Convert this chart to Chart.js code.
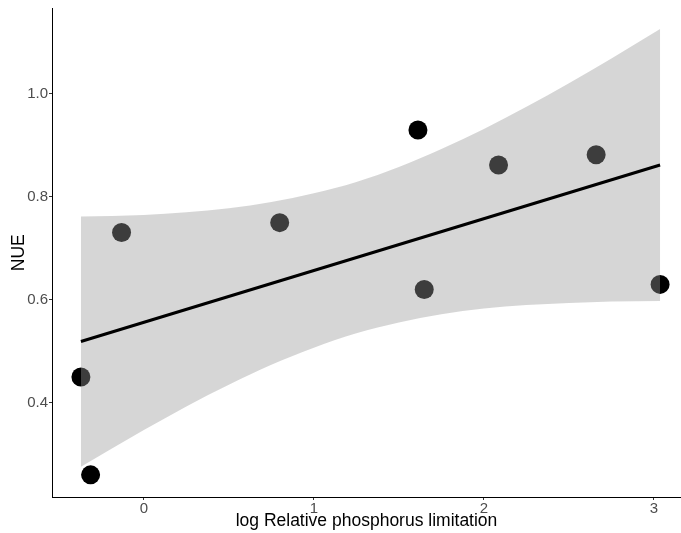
<!DOCTYPE html>
<html>
<head>
<meta charset="utf-8">
<script src="https://cdn.jsdelivr.net/npm/chart.js@4"></script>
<style>
  body { margin: 0; background: #fff; }
  #wrap { width: 681px; height: 533px; }
</style>
</head>
<body>
<div id="wrap"><canvas id="graph" width="681" height="533"></canvas></div>
<script>
// sites: log relative P limitation vs NUE
const limX = [-0.370, -0.313, -0.131, 0.799, 1.612, 1.649, 2.086, 2.660, 3.036];
const nue  = [0.450, 0.260, 0.731, 0.750, 0.930, 0.620, 0.862, 0.882, 0.630];

// linear fit, ends of the line
const fitX = [-0.370, 3.036];
const fitY = [0.519, 0.862];

// 95% band edges along the fit
const bandX  = [-0.370, 0, 0.25, 0.5, 0.75, 1.0, 1.25, 1.5, 1.75, 2.0, 2.25, 2.5, 2.75, 3.036];
const bandHi = [0.762, 0.765, 0.770, 0.778, 0.790, 0.807, 0.829, 0.858, 0.893, 0.932, 0.975, 1.021, 1.069, 1.126];
const bandLo = [0.276, 0.347, 0.393, 0.435, 0.474, 0.507, 0.535, 0.556, 0.572, 0.583, 0.590, 0.594, 0.597, 0.598];

const xTicks = [0, 1, 2, 3];
const yTicks = [0.4, 0.6, 0.8, 1.0];

const font = "'Liberation Sans', Arial, sans-serif";
const toXY = (xs, ys) => xs.map((x, i) => ({x: x, y: ys[i]}));

const axisGrid = {
  drawOnChartArea: false,
  drawTicks: true,
  tickLength: 3,
  color: '#333333',
  tickColor: '#333333'
};

new Chart(document.getElementById('graph'), {
  type: 'scatter',
  data: {
    datasets: [
      {
        // regression line, on top
        type: 'line',
        data: toXY(fitX, fitY),
        borderColor: '#000000',
        borderWidth: 3,
        pointRadius: 0,
        fill: false,
        order: 0
      },
      {
        type: 'line',
        data: toXY(bandX, bandHi),
        borderWidth: 0,
        borderColor: 'rgba(0,0,0,0)',
        pointRadius: 0,
        cubicInterpolationMode: 'monotone',
        backgroundColor: 'rgba(153,153,153,0.4)',
        fill: '+1',
        order: 1
      },
      {
        type: 'line',
        data: toXY(bandX, bandLo),
        borderWidth: 0,
        borderColor: 'rgba(0,0,0,0)',
        pointRadius: 0,
        cubicInterpolationMode: 'monotone',
        fill: false,
        order: 1
      },
      {
        // points go under the band
        data: toXY(limX, nue),
        backgroundColor: '#000000',
        borderWidth: 0,
        pointRadius: 9.5,
        pointHoverRadius: 9.5,
        order: 2
      }
    ]
  },
  options: {
    responsive: false,
    animation: false,
    events: [],
    // panel runs right up to the edge, no room kept for point overflow
    layout: { autoPadding: false, padding: { top: 8, right: 0, bottom: 0, left: 0 } },
    plugins: {
      legend: { display: false },
      tooltip: { enabled: false }
    },
    scales: {
      x: {
        type: 'linear',
        min: -0.540,
        max: 3.159,
        afterBuildTicks: s => { s.ticks = xTicks.map(v => ({value: v})); },
        afterFit: s => { s.height = 36; },
        grid: axisGrid,
        border: { display: true, color: '#000000', width: 1 },
        ticks: {
          padding: 1,
          color: '#4d4d4d',
          font: { family: font, size: 15, lineHeight: 1 },
          callback: v => String(v)
        },
        title: {
          display: true,
          text: 'log Relative phosphorus limitation',
          color: '#000000',
          font: { family: font, size: 17.5, lineHeight: 1 },
          padding: { top: 0, bottom: 3 }
        }
      },
      y: {
        type: 'linear',
        min: 0.217,
        max: 1.166,
        afterBuildTicks: s => { s.ticks = yTicks.map(v => ({value: v})); },
        afterFit: s => { s.width = 52; },
        grid: axisGrid,
        border: { display: true, color: '#000000', width: 1 },
        ticks: {
          padding: 1,
          color: '#4d4d4d',
          font: { family: font, size: 15, lineHeight: 1 },
          callback: v => Number(v).toFixed(1)
        },
        title: {
          display: true,
          text: 'NUE',
          color: '#000000',
          font: { family: font, size: 17.5, lineHeight: 1 },
          padding: { top: 10, bottom: 0 }
        }
      }
    }
  }
});
</script>
</body>
</html>
